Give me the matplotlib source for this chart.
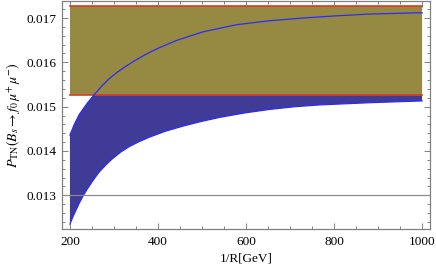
import matplotlib
matplotlib.use("Agg")
import matplotlib.pyplot as plt
from matplotlib.ticker import MultipleLocator

plt.rcParams['font.family'] = ['Liberation Serif', 'DejaVu Serif']
plt.rcParams['mathtext.fontset'] = 'stix'

# upper edge of the blue band
upper_x = [200, 210, 221, 238, 255, 272, 289, 308, 327, 346, 365, 384, 403, 441,
           503, 579, 655, 730, 806, 882, 1000]
upper_y = [0.01436, 0.01460, 0.01482, 0.01506, 0.01527, 0.01546, 0.01563, 0.01578,
           0.01591, 0.01603, 0.01614, 0.01624, 0.01633, 0.01649,
           0.01669, 0.01685, 0.01694, 0.01700, 0.01705, 0.01709, 0.01712]
# lower edge of the blue band
lower_x = [200, 207, 214, 221, 229, 238, 248, 257, 267, 282, 297, 316, 335, 357,
           380, 418, 460, 500, 541, 598, 655, 712, 768, 882, 1000]
lower_y = [0.01235, 0.01252, 0.01267, 0.01282, 0.01297, 0.01312, 0.01327, 0.01340,
           0.01353, 0.01369, 0.01383, 0.01398, 0.01410, 0.01421,
           0.01431, 0.01445, 0.01457, 0.01467, 0.01476, 0.01486, 0.01494, 0.01500,
           0.01504, 0.01509, 0.01513]
# SM band
sm_low, sm_high = 0.01527, 0.01727
sm_x = [200, 1000]
ref_line = 0.013

xticks = [200, 400, 600, 800, 1000]
yticks = [0.013, 0.014, 0.015, 0.016, 0.017]

fig = plt.figure(figsize=(4.36, 2.71), dpi=100)
ax = fig.add_axes([0.1422, 0.155, 0.844, 0.8413])

poly_x = upper_x + lower_x[::-1]
poly_y = upper_y + lower_y[::-1]
ax.fill(poly_x, poly_y, color='#3f3b96', lw=0, zorder=1)
ax.plot(lower_x, lower_y, color='#2a2aff', lw=0.9, zorder=2, solid_joinstyle='round')

ax.fill_between(sm_x, [sm_low]*2, [sm_high]*2, color='#968a42', lw=0, zorder=3)
ax.plot(sm_x, [sm_low]*2, color='#e03a22', lw=1.2, zorder=4)
ax.plot(sm_x, [sm_high]*2, color='#e03a22', lw=1.2, zorder=4)
ax.plot(upper_x, upper_y, color='#2a2aff', lw=0.9, zorder=5, solid_joinstyle='round')

ax.axhline(ref_line, color='#8a8a8a', lw=0.9, zorder=6)

ax.set_xlim(182, 1018)
ax.set_ylim(0.01224, 0.017384)
ax.set_xticks(xticks)
ax.set_yticks(yticks)
ax.set_xticklabels([str(t) for t in xticks])
ax.set_yticklabels([f"{t:.3f}" for t in yticks])
ax.xaxis.set_minor_locator(MultipleLocator(50))
ax.yaxis.set_minor_locator(MultipleLocator(0.0002))

for s in ax.spines.values():
    s.set_color('#808080')
    s.set_linewidth(0.9)
ax.tick_params(which='both', direction='in', top=True, right=True, color='#808080',
               labelsize=9.5, width=0.7)
ax.tick_params(which='major', length=4, pad=4)
ax.tick_params(which='minor', length=2)
ax.tick_params(axis='x', pad=5)

ax.set_xlabel('1/R[GeV]', fontsize=9.5, labelpad=3)
ax.set_ylabel(r'$P_{\rm TN}(B_s \to f_0\, \mu^{+}\, \mu^{-})$', fontsize=10, labelpad=3)

fig.savefig('out.png', dpi=100)
